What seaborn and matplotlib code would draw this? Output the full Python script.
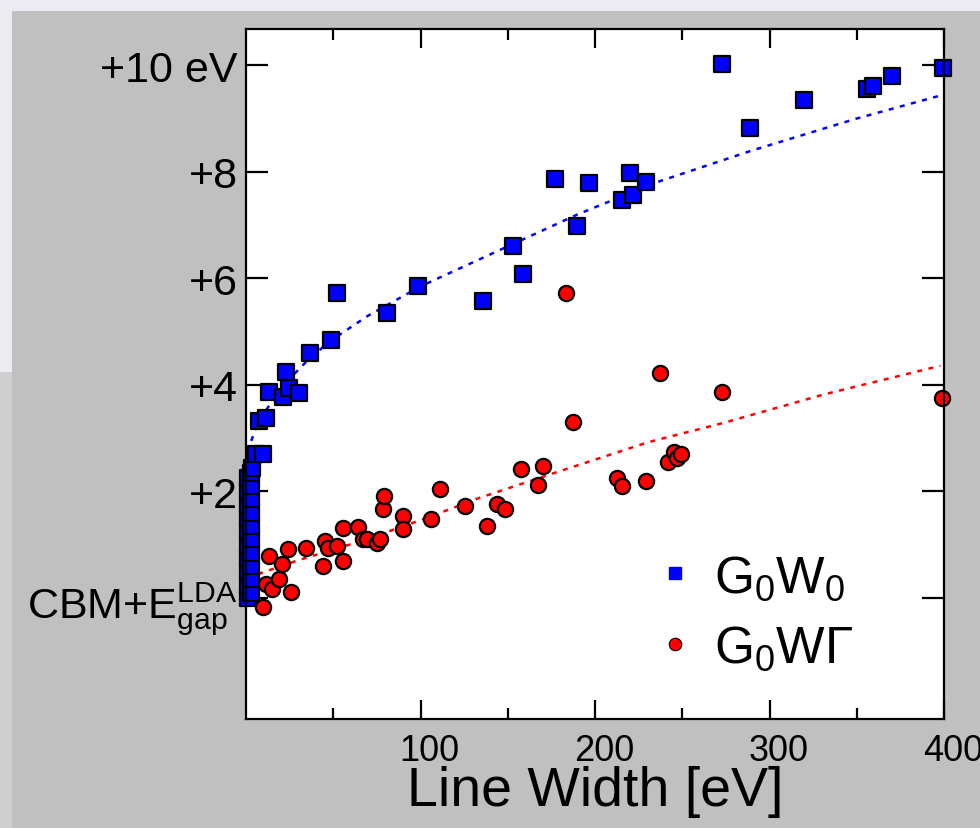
import numpy as np
import pandas as pd
import matplotlib
matplotlib.use("Agg")
import matplotlib.pyplot as plt
from matplotlib.lines import Line2D
from matplotlib.patches import Rectangle
from matplotlib.transforms import ScaledTranslation
import seaborn as sns

# ---------------- data ----------------
g0w0_x = [1, 1, 1, 1, 1, 1, 1, 1, 1, 1,
          3, 3, 3, 3, 3, 3, 3, 3, 3, 3,
          3.5, 6, 10, 7.6, 11.5, 13.4, 21, 24.8, 30.6, 22.9,
          36.7, 48.5, 52, 80.6, 98.4, 136, 152.8, 159, 177, 189.5,
          196.4, 215.3, 220, 221.6, 229.2, 273, 288.8, 319.8, 356, 359.5,
          370.4, 399.2]
g0w0_y = [0.0, 0.25, 0.5, 0.75, 1.0, 1.25, 1.5, 1.75, 2.0, 2.25,
          0.1, 0.35, 0.6, 0.85, 1.1, 1.35, 1.6, 1.85, 2.1, 2.35,
          2.45, 2.7, 2.7, 3.33, 3.37, 3.86, 3.77, 3.95, 3.84, 4.25,
          4.6, 4.84, 5.72, 5.35, 5.85, 5.57, 6.61, 6.09, 7.86, 6.98,
          7.79, 7.47, 7.97, 7.57, 7.81, 10.02, 8.82, 9.34, 9.56, 9.61,
          9.79, 9.94]

g0wg_x = [10, 11.5, 13.4, 14.7, 19, 20.5, 24.2, 25.6, 34.4, 44.3,
          45.3, 47, 52, 55.8, 55.8, 64.4, 67.2, 69.2, 74.9, 76.8,
          78.7, 79, 90.1, 90.1, 105.8, 111.2, 125.5, 137.9, 143.6, 148.4,
          157.6, 167.4, 170.2, 183.4, 187.6, 212.8, 215.7, 229.2, 237, 242,
          245, 247, 249, 272.8, 398.7]
g0wg_y = [-0.16, 0.26, 0.78, 0.17, 0.36, 0.64, 0.92, 0.11, 0.93, 0.61,
          1.07, 0.93, 0.97, 0.70, 1.31, 1.33, 1.11, 1.11, 1.04, 1.11,
          1.67, 1.91, 1.54, 1.29, 1.48, 2.04, 1.73, 1.35, 1.76, 1.68,
          2.42, 2.12, 2.47, 5.72, 3.31, 2.26, 2.11, 2.2, 4.23, 2.55,
          2.75, 2.62, 2.70, 3.87, 3.75]

fit_blue_x = [3, 6, 12, 23, 35, 48, 70, 100, 150, 190, 235, 290, 350, 400]
fit_blue_y = [2.95, 3.22, 3.55, 4.05, 4.45, 4.82, 5.3, 5.85, 6.6, 7.2, 7.8, 8.4, 9.0, 9.45]

fit_red_x = [7, 29, 67, 105, 132, 175, 231, 274, 331, 398]
fit_red_y = [0.45, 0.70, 1.08, 1.52, 1.86, 2.33, 2.93, 3.29, 3.82, 4.36]

y_ticks = [0, 2, 4, 6, 8, 10]
y_labels = [r"CBM+E$_{\mathregular{gap}}^{\mathregular{LDA}}$", "+2", "+4", "+6", "+8", "+10 eV"]
x_ticks = [100, 200, 300, 400]
x_labels = ["100", "200", "300", "400"]
series_names = [r"G$_{\mathregular{0}}$W$_{\mathregular{0}}$", r"G$_{\mathregular{0}}$W$\mathregular{\Gamma}$"]

# ---------------- style ----------------
sns.set_style("white")
plt.rcParams["font.family"] = ["Liberation Sans", "DejaVu Sans"]
plt.rcParams["mathtext.fontset"] = "custom"
plt.rcParams["mathtext.rm"] = "Liberation Sans"
plt.rcParams["mathtext.it"] = "Liberation Sans"
plt.rcParams["mathtext.default"] = "regular"
for key in ["text.color", "axes.labelcolor", "xtick.color", "ytick.color"]:
    plt.rcParams[key] = "black"

BLUE = "#0000ff"
RED = "#ff0000"

fig = plt.figure(figsize=(9.8, 8.29), dpi=100)
fig.patch.set_facecolor("#ebebf1")
# grey panel behind the plot
fig.patches.append(Rectangle((12 / 980, 0), 1, (829 - 12) / 829, transform=fig.transFigure,
                             facecolor="#c0c0c0", edgecolor="none", zorder=-10))
fig.patches.append(Rectangle((0, 0), 12 / 980, 0.55, transform=fig.transFigure,
                             facecolor="#cfcfd2", edgecolor="none", zorder=-10))

ax = fig.add_axes([246 / 980, 1 - 720 / 829, (944 - 246) / 980, (720 - 30) / 829])
ax.set_zorder(2)
ax.set_facecolor("white")

df_b = pd.DataFrame({"x": g0w0_x, "y": g0w0_y})
df_r = pd.DataFrame({"x": g0wg_x, "y": g0wg_y})

sns.lineplot(x=fit_blue_x, y=fit_blue_y, ax=ax, color=BLUE, lw=1.8,
             linestyle=(0, (2.0, 2.6)), sort=False, estimator=None, zorder=2)
sns.lineplot(x=fit_red_x, y=fit_red_y, ax=ax, color=RED, lw=1.8,
             linestyle=(0, (2.0, 2.6)), sort=False, estimator=None, zorder=2)

sns.scatterplot(data=df_b, x="x", y="y", ax=ax, marker="s", s=125, color=BLUE,
                edgecolor="black", linewidth=1.6, zorder=3, clip_on=False, legend=False)
sns.scatterplot(data=df_r, x="x", y="y", ax=ax, marker="o", s=120, color=RED,
                edgecolor="black", linewidth=1.6, zorder=4, clip_on=False, legend=False)

ax.set_xlim(0, 400)
ax.set_ylim(-2.27, 10.68)

ax.set_yticks(y_ticks)
ax.set_yticklabels(y_labels, fontsize=31)
ax.set_xticks(x_ticks)
ax.set_xticklabels(x_labels, fontsize=26)
ax.set_xticks([50, 150, 250, 350], minor=True)

ax.tick_params(axis="y", which="major", direction="in", length=16, width=1.6,
               left=True, right=True, pad=6, colors="black")
ax.tick_params(axis="x", which="major", direction="in", length=14, width=1.6,
               bottom=True, top=True, pad=10, colors="black")
ax.tick_params(axis="x", which="minor", direction="in", length=8, width=1.6,
               bottom=True, top=True)

for lbl in ax.get_xticklabels():
    lbl.set_transform(lbl.get_transform() + ScaledTranslation(0.09, 0, fig.dpi_scale_trans))

for sp in ax.spines.values():
    sp.set_color("black")
    sp.set_linewidth(1.6)
    sp.set_zorder(5)

ax.set_xlabel("Line Width [eV]", fontsize=40, labelpad=-2, color="black")
ax.set_ylabel("")

handles = [Line2D([], [], marker="s", color=BLUE, ls="none", ms=9, mec=BLUE),
           Line2D([], [], marker="o", color=RED, ls="none", ms=9, mec="black", mew=0.8)]
leg = ax.legend(handles, series_names, loc="center left",
                bbox_to_anchor=((660 - 246) / 698, (720 - 614) / 690),
                frameon=False, fontsize=37, handlelength=0.6, handletextpad=0.45,
                labelspacing=0.42, borderpad=0, borderaxespad=0, labelcolor="black")

fig.savefig("out.png", dpi=100, facecolor=fig.get_facecolor())
